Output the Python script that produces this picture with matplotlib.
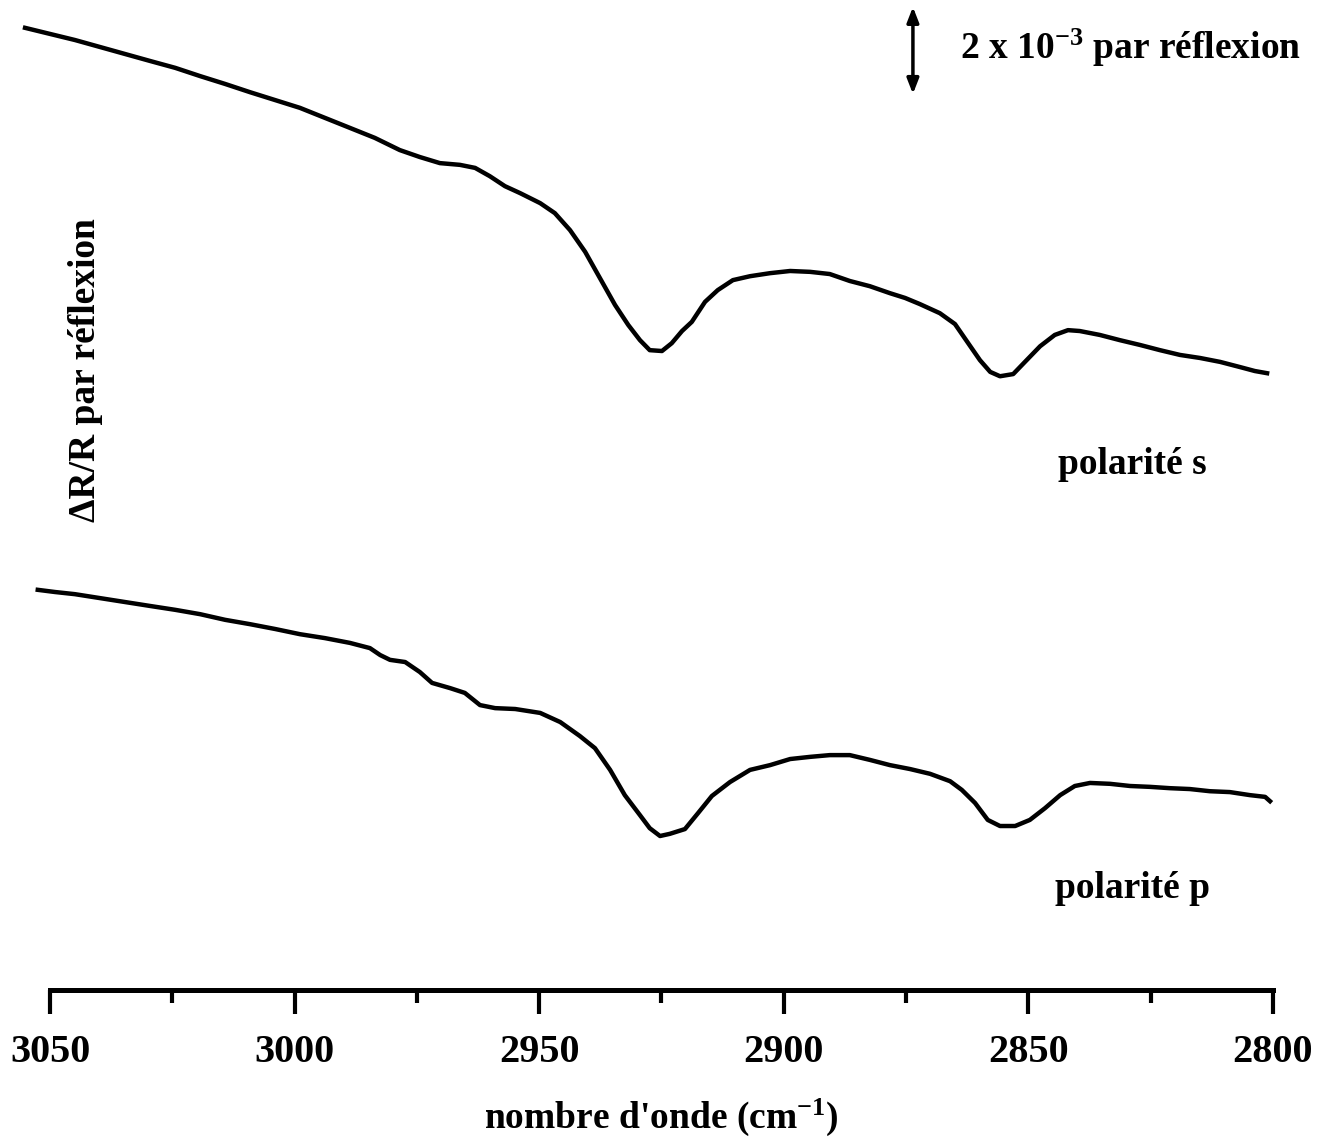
import matplotlib
matplotlib.use('Agg')
import matplotlib.pyplot as plt
from matplotlib.ticker import MultipleLocator

plt.rcParams['font.family'] = ['Liberation Serif', 'DejaVu Serif']
plt.rcParams['font.weight'] = 'bold'
plt.rcParams['mathtext.fontset'] = 'custom'
plt.rcParams['mathtext.rm'] = 'Liberation Serif:bold'
plt.rcParams['mathtext.default'] = 'rm'

# wavenumber (cm-1) and dR/R (x 1e-3, arbitrary offset)
wn_s = [3055.1, 3050.0, 3044.9, 3039.8, 3034.7, 3029.6, 3024.4, 3019.3, 3014.2, 3009.1,
        3004.0, 2998.9, 2993.8, 2988.7, 2983.6, 2978.5, 2974.4, 2970.3, 2966.2, 2963.1,
        2960.1, 2957.0, 2953.9, 2949.8, 2946.8, 2943.7, 2940.6, 2937.6, 2934.5, 2931.8,
        2929.4, 2927.4, 2924.9, 2922.9, 2920.8, 2918.8, 2916.1, 2913.5, 2910.4, 2906.9,
        2902.8, 2898.7, 2894.6, 2890.6, 2886.5, 2882.4, 2878.3, 2875.2, 2872.2, 2868.1,
        2865.0, 2862.3, 2859.9, 2857.8, 2855.8, 2853.1, 2850.7, 2847.6, 2844.6, 2841.9,
        2839.5, 2835.4, 2831.3, 2827.2, 2823.1, 2819.0, 2814.9, 2810.8, 2806.7, 2803.7,
        2801.2]
dr_s = [22.12, 21.98, 21.84, 21.68, 21.52, 21.36, 21.20, 21.01, 20.83, 20.64,
        20.46, 20.28, 20.05, 19.82, 19.59, 19.31, 19.15, 19.01, 18.97, 18.90,
        18.71, 18.48, 18.32, 18.09, 17.86, 17.47, 16.97, 16.37, 15.75, 15.29,
        14.94, 14.71, 14.69, 14.87, 15.15, 15.36, 15.82, 16.09, 16.32, 16.41,
        16.48, 16.53, 16.51, 16.46, 16.30, 16.18, 16.02, 15.91, 15.77, 15.56,
        15.31, 14.87, 14.48, 14.21, 14.11, 14.16, 14.44, 14.80, 15.06, 15.17,
        15.15, 15.06, 14.94, 14.83, 14.71, 14.60, 14.53, 14.44, 14.32, 14.23,
        14.18]

wn_p = [3052.5, 3049.0, 3044.9, 3039.8, 3034.7, 3029.6, 3024.4, 3019.3, 3014.2, 3009.1,
        3004.0, 2998.9, 2993.8, 2988.7, 2984.6, 2982.5, 2980.5, 2977.4, 2974.4, 2971.9,
        2968.2, 2965.2, 2962.1, 2959.0, 2954.9, 2949.8, 2945.7, 2941.7, 2938.6, 2935.5,
        2932.5, 2929.4, 2927.4, 2925.3, 2923.3, 2920.2, 2917.5, 2914.7, 2911.0, 2906.9,
        2902.8, 2898.7, 2894.6, 2890.6, 2886.5, 2882.4, 2878.3, 2874.2, 2870.1, 2866.0,
        2863.6, 2860.9, 2858.3, 2855.8, 2852.7, 2849.7, 2846.6, 2843.5, 2840.5, 2837.4,
        2833.3, 2829.2, 2825.1, 2821.1, 2817.0, 2812.9, 2808.8, 2804.7, 2801.6, 2800.6]
dr_p = [9.20, 9.15, 9.10, 9.01, 8.92, 8.83, 8.74, 8.64, 8.51, 8.41,
        8.30, 8.18, 8.09, 7.98, 7.86, 7.70, 7.59, 7.54, 7.31, 7.06,
        6.94, 6.83, 6.55, 6.48, 6.46, 6.37, 6.16, 5.84, 5.56, 5.06,
        4.48, 4.02, 3.72, 3.54, 3.59, 3.70, 4.07, 4.46, 4.78, 5.06,
        5.17, 5.31, 5.36, 5.40, 5.40, 5.29, 5.17, 5.08, 4.97, 4.80,
        4.60, 4.30, 3.91, 3.77, 3.77, 3.91, 4.18, 4.48, 4.69, 4.76,
        4.74, 4.69, 4.67, 4.64, 4.62, 4.57, 4.55, 4.48, 4.44, 4.34]

major_ticks = [3050, 3000, 2950, 2900, 2850, 2800]

fig = plt.figure(figsize=(13.37, 11.42), dpi=100)
ax = fig.add_axes([0.0374, 0.1331, 0.9147, 0.8669])

ax.plot(wn_s, dr_s, color='black', lw=3.2, clip_on=False)
ax.plot(wn_p, dr_p, color='black', lw=3.2, clip_on=False)

ax.set_xlim(3050, 2800)
ax.set_ylim(0, 22.76)

for s in ['top', 'right', 'left']:
    ax.spines[s].set_visible(False)
ax.spines['bottom'].set_linewidth(3.6)
ax.set_yticks([])
ax.set_xticks(major_ticks)
ax.set_xticklabels([str(t) for t in major_ticks])
ax.xaxis.set_minor_locator(MultipleLocator(25))
ax.tick_params(axis='x', which='major', direction='out', length=17, width=3,
               pad=15, labelsize=29)
ax.tick_params(axis='x', which='minor', direction='out', length=9, width=3)
for lab in ax.get_xticklabels():
    lab.set_fontweight('bold')

ax.set_xlabel("nombre d'onde (cm$^{-1}$)", fontsize=27, fontweight='bold', labelpad=18)
fig.text(0.064, 1 - 370 / 1142, 'ΔR/R par réflexion', rotation=90, fontsize=27,
         fontweight='bold', ha='center', va='center')

# scale bar: 2 x 10^-3
ax.annotate('', xy=(2873.6, 22.6), xytext=(2873.6, 20.6),
            arrowprops=dict(arrowstyle='<|-|>,head_length=0.9,head_width=0.35',
                            color='black', lw=2.5, shrinkA=0, shrinkB=0),
            annotation_clip=False)
ax.text(2864.0, 21.66, '2 x 10$^{-3}$ par réflexion', fontsize=27, fontweight='bold',
        ha='left', va='center')

ax.text(2843.9, 12.07, 'polarité s', fontsize=27, fontweight='bold', ha='left', va='center')
ax.text(2844.6, 2.34, 'polarité p', fontsize=27, fontweight='bold', ha='left', va='center')

fig.savefig('out.png', dpi=100)
